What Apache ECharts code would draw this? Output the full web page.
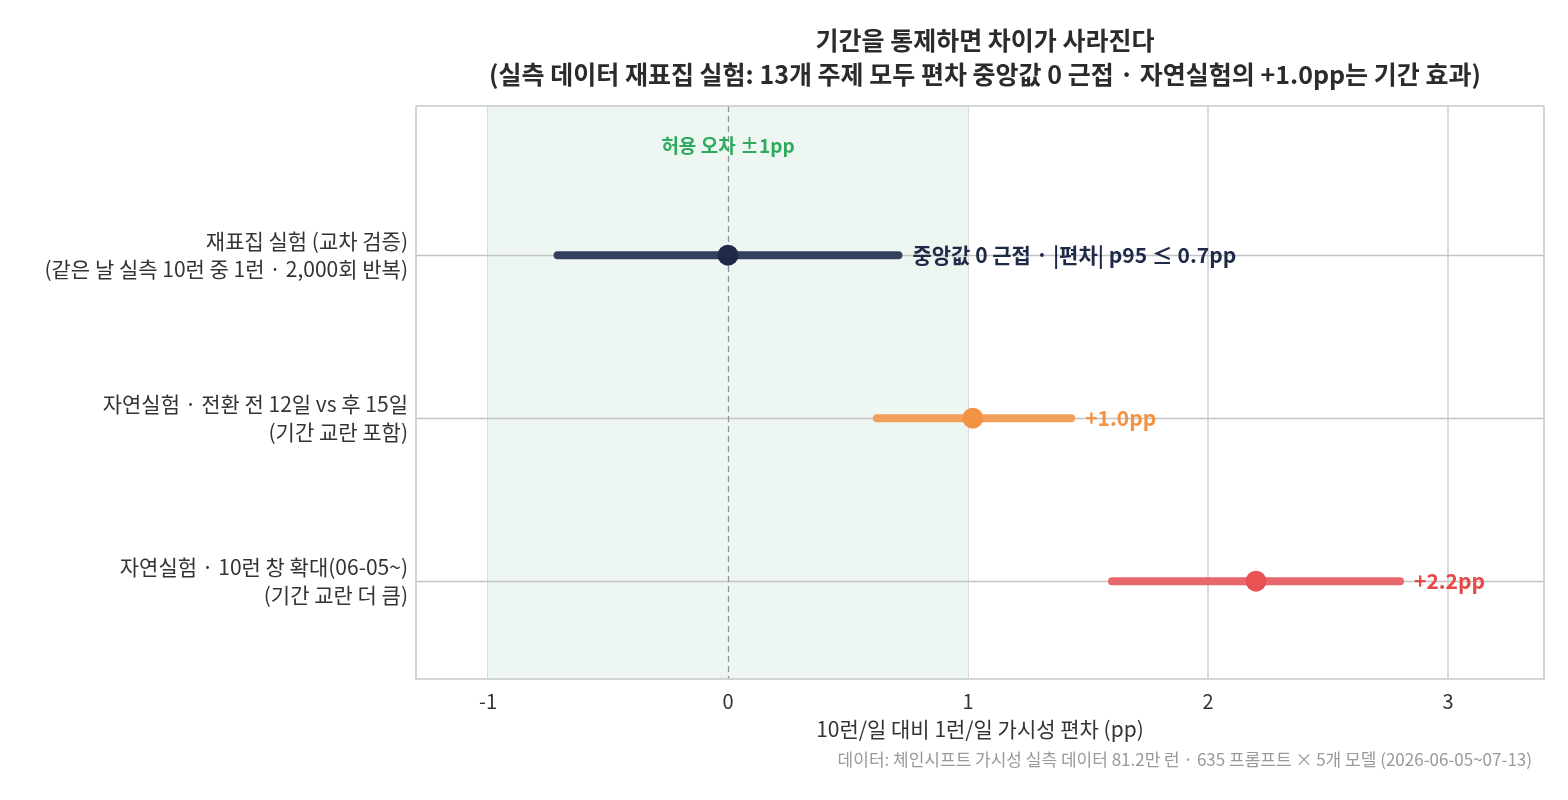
<!DOCTYPE html>
<html><head><meta charset="utf-8">
<script src="https://cdn.jsdelivr.net/npm/echarts@6/dist/echarts.min.js"></script>
<style>html,body{margin:0;padding:0;background:#fff}#c{width:1568px;height:800px}</style>
</head><body><div id="c"></div>
<script>
const rowLabels = ['재표집 실험 (교차 검증)\n(같은 날 실측 10런 중 1런 · 2,000회 반복)', '자연실험 · 전환 전 12일 vs 후 15일\n(기간 교란 포함)', '자연실험 · 10런 창 확대(06-05~)\n(기간 교란 더 큼)'];
const centers = [0, 1.02, 2.2];
const lows = [-0.71, 0.62, 1.6];
const highs = [0.71, 1.43, 2.8];
const endLabels = ['중앙값 0 근접 · |편차| p95 ≤ 0.7pp', '+1.0pp', '+2.2pp'];
const lineColors = ['#333f5c', '#f0a05a', '#e8666c'];
const dotColors = ['#1e2a48', '#f39243', '#e85252'];
const labelColors = ['#1e2a48', '#f39243', '#e84848'];
const xTicks = [-1, 0, 1, 2, 3];
const F = '"Noto Sans CJK KR","Noto Sans",sans-serif';

const series = [];
centers.forEach((c, i) => {
  series.push({type:'line', data:[[lows[i], i],[highs[i], i]], symbol:'none', z:3,
    lineStyle:{color:lineColors[i], width:8, cap:'round'},
    endLabel:{show:true, formatter:endLabels[i], color:labelColors[i], fontFamily:F, fontWeight:'bold', fontSize:21, distance:14},
    markLine: i===0 ? {silent:true, symbol:'none', label:{show:false}, z:1,
      lineStyle:{color:'#c4c4c4', width:1.3, type:'solid'}, data:[{yAxis:0},{yAxis:1},{yAxis:2}]} : undefined});
  series.push({type:'scatter', data:[[c, i]], symbolSize:21, z:5, itemStyle:{color:dotColors[i], opacity:1}});
});
series.push({type:'line', data:[], markArea:{silent:true, itemStyle:{color:'#edf6f0'}, data:[[{xAxis:-1},{xAxis:1}]]},
  markLine:{silent:true, symbol:'none', lineStyle:{color:'#8a94a6', type:[6,4], width:1.3},
    label:{show:false}, data:[{xAxis:0}]}});

const chart = echarts.init(document.getElementById('c'));
chart.setOption({
  animation:false,
  title:{text:'기간을 통제하면 차이가 사라진다\n(실측 데이터 재표집 실험: 13개 주제 모두 편차 중앙값 0 근접 · 자연실험의 +1.0pp는 기간 효과)',
    left:980, textAlign:'center', top:18, textStyle:{fontFamily:F, fontSize:25, fontWeight:'bold', color:'#2b2b2b', lineHeight:34}},
  grid:{left:416, right:24, top:106, bottom:121},
  xAxis:{type:'value', min:-1.3, max:3.4, interval:1,
    name:'10런/일 대비 1런/일 가시성 편차 (pp)', nameLocation:'middle', nameGap:40,
    nameTextStyle:{fontFamily:F, fontSize:21, color:'#333'},
    axisLine:{show:false}, axisTick:{show:false},
    axisLabel:{customValues:xTicks, fontFamily:F, fontSize:20, color:'#333', margin:12},
    splitLine:{show:false}},
  yAxis:{type:'value', min:-0.915, max:2.6, inverse:true,
    axisLine:{show:false}, axisTick:{show:false}, splitLine:{show:false},
    axisLabel:{customValues:[0,1,2], formatter:v=>rowLabels[Math.round(v)], fontFamily:F, fontSize:21, color:'#333', lineHeight:28, margin:8, align:'right'}},
  graphic:[
    {type:'rect', shape:{x:416, y:106, width:1128, height:573}, style:{fill:'none', stroke:'#c8c8c8', lineWidth:1.5}, z:10},
    ...xTicks.map(t=>({type:'line', shape:{x1:728+240*t, y1:106, x2:728+240*t, y2:679}, style:{stroke:'#c8c8c8', lineWidth:1.3}, z:-1})),
    {type:'text', x:728, y:146, z:100, style:{text:'허용 오차 ±1pp', font:'bold 19px '+F, fill:'#2eaa5e', align:'center', verticalAlign:'middle'}},
    {type:'text', x:1532, y:760, z:100, style:{text:'데이터: 체인시프트 가시성 실측 데이터 81.2만 런 · 635 프롬프트 × 5개 모델 (2026-06-05~07-13)', font:'17px '+F, fill:'#999', align:'right', verticalAlign:'middle'}}
  ],
  series
});
</script></body></html>
